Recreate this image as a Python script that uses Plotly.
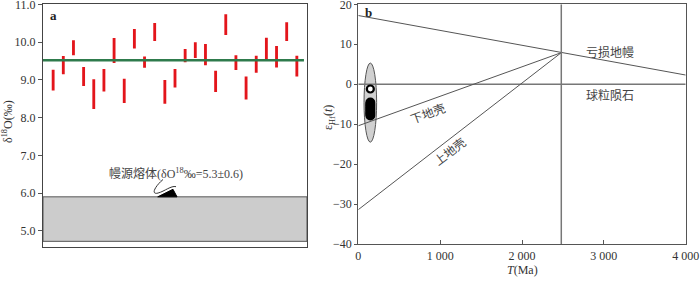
import plotly.graph_objects as go

# ---------------- Panel a data ----------------
sample_idx = list(range(1, 26))
d18O_high = [9.27, 9.63, 10.05, 9.34, 9.02, 9.29, 10.11, 9.03, 10.35, 9.62, 10.51, 9.00, 9.29,
             9.82, 10.00, 9.95, 9.24, 10.74, 9.65, 9.09, 9.64, 10.12, 9.90, 10.53, 9.64]
d18O_low = [8.72, 9.15, 9.65, 8.84, 8.23, 8.69, 9.45, 8.39, 9.83, 9.32, 10.03, 8.37, 8.80,
            9.47, 9.58, 9.39, 8.68, 10.19, 9.26, 8.48, 9.19, 9.51, 9.33, 10.03, 9.09]
d18O_mean = 9.52
mantle_band = [4.72, 5.9]
a_yticks = [5.0, 6.0, 7.0, 8.0, 9.0, 10.0, 11.0]

# ---------------- Panel b data ----------------
T_dm = [0, 4000]
eps_dm = [17.2, 2.3]
T_chon = [0, 4000]
eps_chon = [0, 0]
T_crust = [0, 2480]
eps_lower = [-10.4, 7.9]
eps_upper = [-31.4, 7.9]
T_vert = 2480
open_T = [147]
open_eps = [-1.2]
cluster_T = [147, 147, 147, 147, 147, 147, 147, 147, 147]
cluster_eps = [-4.6, -5.0, -5.4, -5.8, -6.2, -6.6, -7.0, -7.4, -7.8]
ellipse_T = [70, 224]
ellipse_eps = [-14.5, 5.3]
b_xticks = [0, 1000, 2000, 3000, 4000]
b_xtext = ["0", "1 000", "2 000", "3 000", "4 000"]
b_yticks = [-40, -30, -20, -10, 0, 10, 20]

SERIF = "'Liberation Serif', 'Times New Roman', 'Noto Sans CJK SC', serif"
AX = "#555555"

fig = go.Figure()

# Panel a
fig.add_trace(go.Bar(x=sample_idx, y=[h - l for h, l in zip(d18O_high, d18O_low)], base=d18O_low,
                     width=0.28, marker=dict(color="#e3151b", line=dict(width=0)),
                     xaxis="x", yaxis="y", showlegend=False, hoverinfo="skip"))
fig.add_trace(go.Scatter(x=[0, 25.7], y=[d18O_mean, d18O_mean], mode="lines",
                         line=dict(color="#2e7b4c", width=2.5), xaxis="x", yaxis="y", showlegend=False))

# Panel b lines
fig.add_trace(go.Scatter(x=T_dm, y=eps_dm, mode="lines", line=dict(color="#555", width=1),
                         xaxis="x2", yaxis="y2", showlegend=False))
fig.add_trace(go.Scatter(x=T_chon, y=eps_chon, mode="lines", line=dict(color="#777", width=1.5),
                         xaxis="x2", yaxis="y2", showlegend=False))
fig.add_trace(go.Scatter(x=T_crust, y=eps_lower, mode="lines", line=dict(color="#555", width=1),
                         xaxis="x2", yaxis="y2", showlegend=False))
fig.add_trace(go.Scatter(x=T_crust, y=eps_upper, mode="lines", line=dict(color="#555", width=1),
                         xaxis="x2", yaxis="y2", showlegend=False))
fig.add_trace(go.Scatter(x=[T_vert, T_vert], y=[-40, 20], mode="lines", line=dict(color="#777", width=1.5),
                         xaxis="x2", yaxis="y2", showlegend=False))
fig.add_trace(go.Scatter(x=cluster_T, y=cluster_eps, mode="markers",
                         marker=dict(symbol="circle", size=8, color="black",
                                     line=dict(color="black", width=2)),
                         xaxis="x2", yaxis="y2", showlegend=False))
fig.add_trace(go.Scatter(x=open_T, y=open_eps, mode="markers",
                         marker=dict(symbol="circle", size=7, color="white",
                                     line=dict(color="black", width=2.2)),
                         xaxis="x2", yaxis="y2", showlegend=False))

shapes = [
    dict(type="rect", xref="x", yref="y", x0=0, x1=26, y0=mantle_band[0], y1=mantle_band[1],
         fillcolor="#cccccc", line=dict(color="#555", width=1), layer="below"),
    dict(type="path", xref="x", yref="y",
         path="M 11.82 6.36 C 11.0 6.17, 10.6 5.95, 11.33 6.0 C 12.0 6.05, 12.6 6.2, 13.1 6.17",
         line=dict(color="#333", width=1)),
    dict(type="path", xref="x", yref="y",
         path="M 11.3 5.9 L 13.2 5.9 L 12.8 6.1 Z",
         fillcolor="black", line=dict(color="black", width=1)),
    dict(type="circle", xref="x2", yref="y2", x0=ellipse_T[0], x1=ellipse_T[1],
         y0=ellipse_eps[0], y1=ellipse_eps[1], fillcolor="#d0d0d0",
         line=dict(color="#555", width=1), layer="below"),
]

def ann(**kw):
    kw.setdefault("showarrow", False)
    kw.setdefault("xanchor", "center")
    kw.setdefault("yanchor", "middle")
    return kw

annotations = [
    ann(text="<b>a</b>", x=53 / 700, y=1 - 15 / 281, xref="paper", yref="paper",
        font=dict(family=SERIF, size=13, color="#222")),
    ann(text="<b>b</b>", x=368 / 700, y=1 - 13 / 281, xref="paper", yref="paper",
        font=dict(family=SERIF, size=13, color="#222")),
    ann(text="幔源熔体(δO<sup>18</sup>‰=5.3±0.6)", x=6.3, y=6.52, xref="x", yref="y",
        xanchor="left", font=dict(family=SERIF, size=12, color="#444")),
    ann(text="δ<sup>18</sup>O(‰)", x=8 / 700, y=1 - 122 / 281, xref="paper", yref="paper",
        textangle=-90, font=dict(family=SERIF, size=12, color="#333")),
    ann(text="ε<sub>Hf</sub>(<i>t</i>)", x=329 / 700, y=1 - 118 / 281, xref="paper", yref="paper",
        textangle=-90, font=dict(family=SERIF, size=12, color="#333")),
    ann(text="<i>T</i>(Ma)", x=522 / 700, y=1 - 270 / 281, xref="paper", yref="paper",
        font=dict(family=SERIF, size=12, color="#333")),
    ann(text="亏损地幔", x=3073, y=7.9, xref="x2", yref="y2",
        font=dict(family=SERIF, size=12, color="#444")),
    ann(text="球粒陨石", x=3073, y=-2.9, xref="x2", yref="y2",
        font=dict(family=SERIF, size=12, color="#444")),
    ann(text="下地壳", x=852, y=-7.4, xref="x2", yref="y2", textangle=-20,
        font=dict(family=SERIF, size=12, color="#444")),
    ann(text="上地壳", x=1120, y=-16.9, xref="x2", yref="y2", textangle=-37,
        font=dict(family=SERIF, size=12, color="#444")),
]

fig.update_layout(
    width=700, height=281,
    margin=dict(l=0, r=0, t=0, b=0),
    paper_bgcolor="white", plot_bgcolor="white",
    showlegend=False, barmode="overlay",
    shapes=shapes, annotations=annotations,
    font=dict(family=SERIF, size=12, color="#333"),
    xaxis=dict(domain=[43 / 700, 307 / 700], range=[0, 26], showticklabels=False, ticks="",
               showgrid=False, zeroline=False, showline=True, linecolor="#444", linewidth=1.3,
               mirror=True, anchor="y", automargin=False, fixedrange=True),
    yaxis=dict(domain=[1 - 247 / 281, 1 - 4.4 / 281], range=[4.57, 11.001], tickvals=a_yticks,
               tickformat=".1f", ticks="outside", ticklen=4, tickcolor=AX, showgrid=False,
               zeroline=False, showline=True, linecolor="#444", linewidth=1.3, mirror=True,
               anchor="x", automargin=False, ticklabeloverflow="allow",
               tickfont=dict(family=SERIF, size=12, color="#333")),
    xaxis2=dict(domain=[358.3 / 700, 685.7 / 700], range=[0, 4000], tickvals=b_xticks,
                ticktext=b_xtext, ticks="inside", ticklen=4, tickcolor=AX, showgrid=False,
                zeroline=False, showline=True, linecolor=AX, linewidth=1.2, mirror=True,
                anchor="y2", automargin=False, ticklabeloverflow="allow",
                tickfont=dict(family=SERIF, size=12, color="#333")),
    yaxis2=dict(domain=[1 - 244 / 281, 1 - 4.3 / 281], range=[-40, 20.01], tickvals=b_yticks,
                ticks="outside", ticklen=3, tickcolor=AX, showgrid=False, zeroline=False,
                showline=True, linecolor=AX, linewidth=1.2, mirror=True, anchor="x2",
                automargin=False, ticklabeloverflow="allow",
                tickfont=dict(family=SERIF, size=12, color="#333")),
)

fig.write_html("out.html", config={"displayModeBar": False},
               post_script="document.body.style.margin='0';document.body.style.overflow='hidden';")
